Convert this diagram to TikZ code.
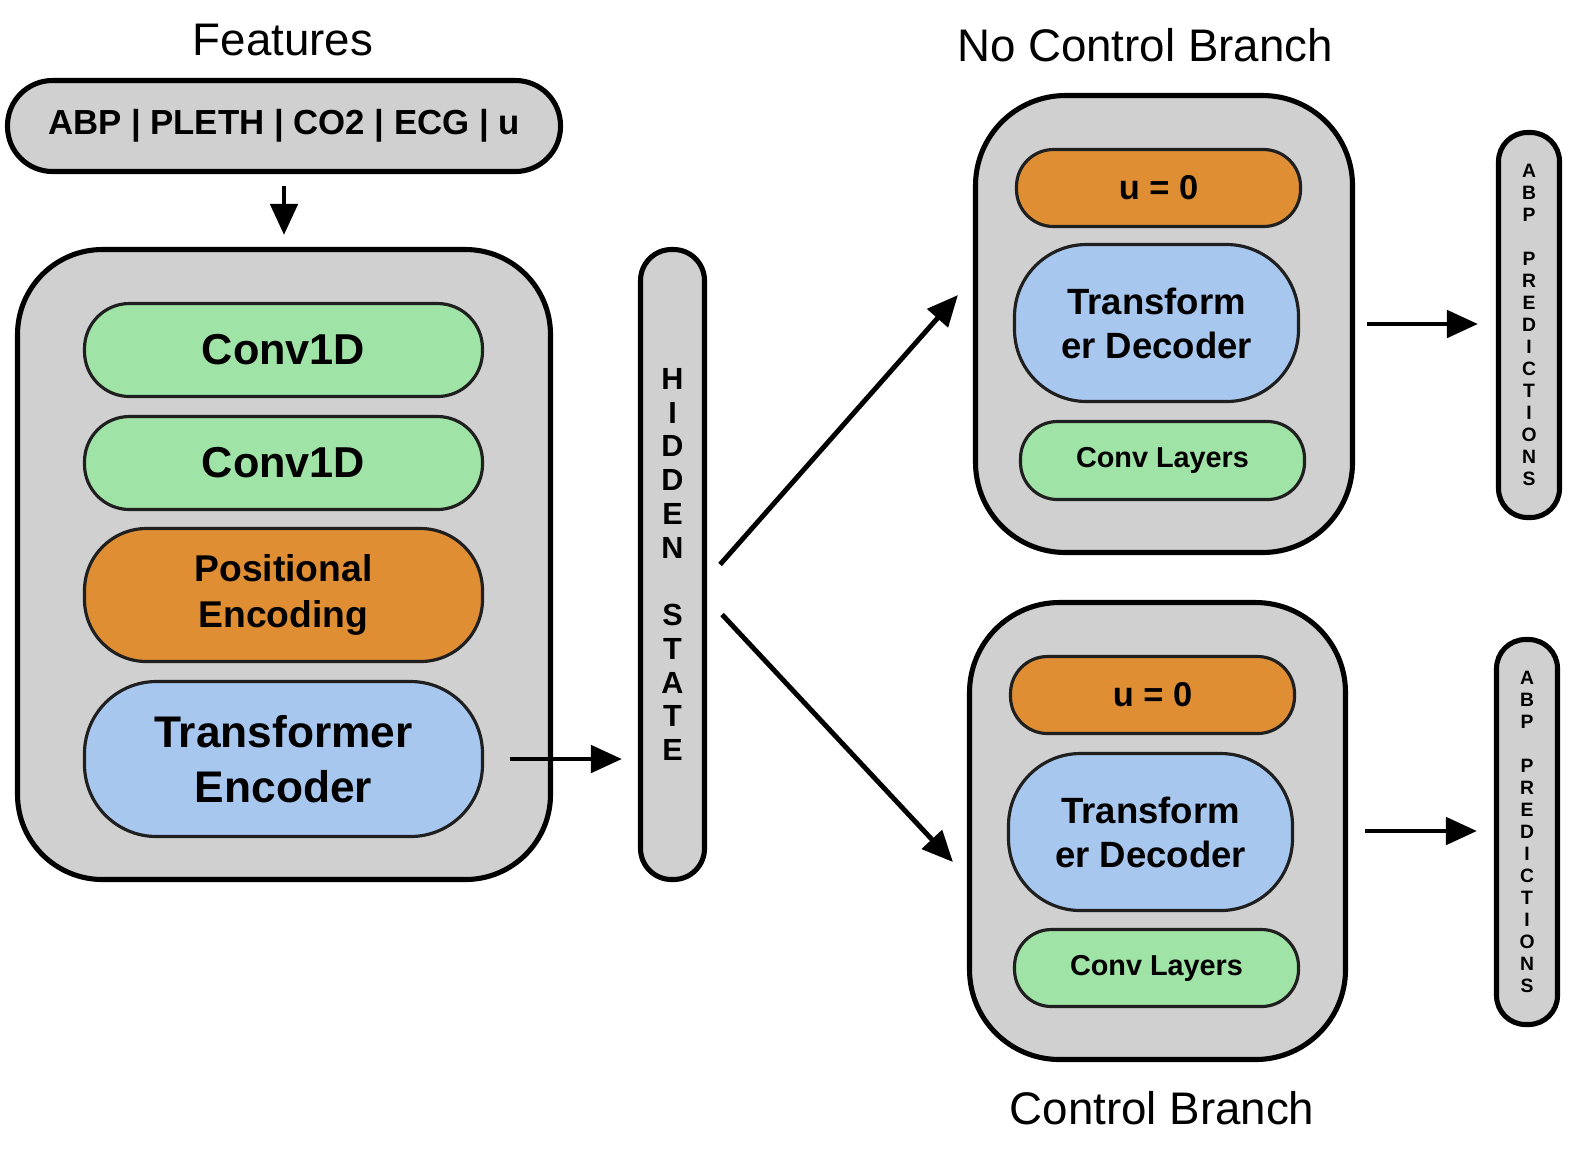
\documentclass[tikz,border=0pt]{standalone}
\usepackage{fontspec}
\setmainfont{Liberation Sans}
\usetikzlibrary{arrows.meta}

\definecolor{boxgray}{HTML}{D0D0D0}
\definecolor{convgreen}{HTML}{A0E3A6}
\definecolor{posorange}{HTML}{E08E34}
\definecolor{tfblue}{HTML}{A8C7EF}

\tikzset{
  outer/.style={draw=black, line width=1.45pt, fill=boxgray, inner sep=0pt, align=center},
  layer/.style={draw=black!88, line width=0.9pt, inner sep=0pt, align=center},
  arr/.style={-{Triangle[length=0.31cm,width=0.27cm]}, line width=1.4pt},
}

\begin{document}
\begin{tikzpicture}
        \useasboundingbox (0,0) rectangle (15.74,-11.48);
        % titles
        \node (FT) at (2.83, -0.40) {\fontsize{13}{15}\selectfont Features};
        \node (NT) at (11.45, -0.45) {\fontsize{13}{15}\selectfont No Control Branch};
        \node (CT) at (11.62, -11.08) {\fontsize{13}{15}\selectfont Control Branch};
        % input and encoder
        \node [outer, minimum width=5.53cm, minimum height=0.91cm, rounded corners=0.45cm,
               font=\bfseries\fontsize{9.9}{12}\selectfont] (IN) at (2.84, -1.26) {ABP | PLETH | CO2 | ECG | u};
        \node [outer, minimum width=5.33cm, minimum height=6.30cm, rounded corners=0.85cm] (ENC) at (2.84, -5.645) {};
        \node [layer, fill=convgreen, minimum width=3.98cm, minimum height=0.93cm, rounded corners=0.45cm,
               font=\bfseries\fontsize{12.3}{15}\selectfont] (C1) at (2.835, -3.50) {Conv1D};
        \node [layer, fill=convgreen, minimum width=3.98cm, minimum height=0.93cm, rounded corners=0.45cm,
               font=\bfseries\fontsize{12.3}{15}\selectfont] (C2) at (2.835, -4.63) {Conv1D};
        \node [layer, fill=posorange, minimum width=3.98cm, minimum height=1.33cm, rounded corners=0.62cm,
               font=\bfseries\fontsize{10.6}{13}\selectfont] (PE) at (2.835, -5.95) {Positional\\Encoding};
        \node [layer, fill=tfblue, minimum width=3.98cm, minimum height=1.55cm, rounded corners=0.72cm,
               font=\bfseries\fontsize{12.6}{15.6}\selectfont] (TE) at (2.835, -7.59) {Transformer\\Encoder};
        % hidden state
        \node [outer, minimum width=0.64cm, minimum height=6.30cm, rounded corners=0.31cm,
               font=\bfseries\fontsize{8.7}{9.6}\selectfont] (HS) at (6.725, -5.645)
               {H\\I\\D\\D\\E\\N\\~\\S\\T\\A\\T\\E};
        % no control branch
        \node [outer, minimum width=3.77cm, minimum height=4.57cm, rounded corners=0.9cm] (NC) at (11.64, -3.24) {};
        \node [layer, fill=posorange, minimum width=2.84cm, minimum height=0.77cm, rounded corners=0.37cm,
               font=\bfseries\fontsize{9.8}{12}\selectfont] (NU) at (11.585, -1.88) {u = 0};
        \node [layer, fill=tfblue, minimum width=2.84cm, minimum height=1.57cm, rounded corners=0.72cm,
               font=\bfseries\fontsize{10.4}{12.5}\selectfont] (ND) at (11.565, -3.23) {Transform\\er Decoder};
        \node [layer, fill=convgreen, minimum width=2.84cm, minimum height=0.78cm, rounded corners=0.37cm,
               font=\bfseries\fontsize{8.2}{10}\selectfont] (NL) at (11.625, -4.605) {Conv Layers};
        % control branch
        \node [outer, minimum width=3.76cm, minimum height=4.57cm, rounded corners=0.9cm] (CB) at (11.575, -8.31) {};
        \node [layer, fill=posorange, minimum width=2.84cm, minimum height=0.77cm, rounded corners=0.37cm,
               font=\bfseries\fontsize{9.8}{12}\selectfont] (CU) at (11.525, -6.95) {u = 0};
        \node [layer, fill=tfblue, minimum width=2.84cm, minimum height=1.57cm, rounded corners=0.72cm,
               font=\bfseries\fontsize{10.4}{12.5}\selectfont] (CD) at (11.505, -8.32) {Transform\\er Decoder};
        \node [layer, fill=convgreen, minimum width=2.84cm, minimum height=0.77cm, rounded corners=0.37cm,
               font=\bfseries\fontsize{8.2}{10}\selectfont] (CL) at (11.565, -9.68) {Conv Layers};
        % predictions
        \node [outer, minimum width=0.61cm, minimum height=3.85cm, rounded corners=0.29cm,
               font=\bfseries\fontsize{5.5}{6.26}\selectfont] (P1) at (15.29, -3.25)
               {A\\B\\P\\~\\P\\R\\E\\D\\I\\C\\T\\I\\O\\N\\S};
        \node [outer, minimum width=0.61cm, minimum height=3.85cm, rounded corners=0.29cm,
               font=\bfseries\fontsize{5.5}{6.26}\selectfont] (P2) at (15.27, -8.32)
               {A\\B\\P\\~\\P\\R\\E\\D\\I\\C\\T\\I\\O\\N\\S};
        % arrows
        \draw [arr, shorten <=0.12cm, shorten >=0.12cm] (IN) -- (ENC);
        \draw [arr, shorten <=0.26cm, shorten >=0.16cm] (TE.east) -- (TE.east -| HS.west);
        \draw [arr] ([xshift=0.13cm]HS.east) -- ([shift={(-0.15,0.29)}]NC.west);
        \draw [arr] ([shift={(0.15,-0.50)}]HS.east) -- ([shift={(-0.14,-0.31)}]CB.west);
        \draw [arr, shorten <=0.12cm, shorten >=0.18cm] (NC.east) -- (NC.east -| P1.west);
        \draw [arr, shorten <=0.17cm, shorten >=0.17cm] (CB.east) -- (CB.east -| P2.west);
\end{tikzpicture}
\end{document}
